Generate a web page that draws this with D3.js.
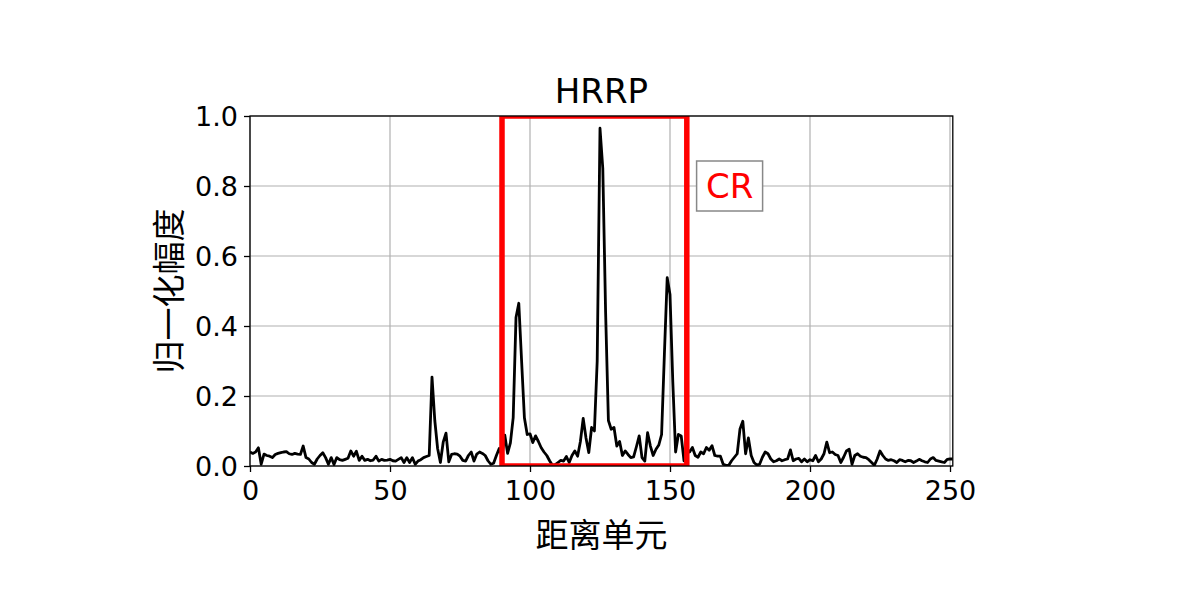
<!DOCTYPE html>
<html>
<head>
<meta charset="utf-8">
<script src="https://cdn.jsdelivr.net/npm/d3@7"></script>
<style>
  html, body { margin: 0; padding: 0; background: #fff; }
  svg { display: block; }
</style>
</head>
<body>
<script>
// ---- data ----
const amplitude = [
  0.040, 0.036, 0.040, 0.052, 0.005, 0.034, 0.030, 0.028, 0.024, 0.033,
  0.036, 0.038, 0.040, 0.041, 0.035, 0.033, 0.036, 0.034, 0.033, 0.057,
  0.024, 0.020, 0.010, 0.005, 0.020, 0.030, 0.038, 0.024, 0.005, 0.024,
  0.004, 0.024, 0.018, 0.016, 0.019, 0.022, 0.043, 0.028, 0.042, 0.016,
  0.028, 0.016, 0.019, 0.015, 0.017, 0.028, 0.014, 0.019, 0.016, 0.017,
  0.019, 0.015, 0.014, 0.019, 0.024, 0.010, 0.024, 0.010, 0.024, 0.005,
  0.014, 0.018, 0.024, 0.027, 0.030, 0.254, 0.130, 0.050, 0.010, 0.068,
  0.094, 0.012, 0.033, 0.035, 0.034, 0.028, 0.016, 0.014, 0.030, 0.040,
  0.014, 0.034, 0.040, 0.036, 0.030, 0.015, 0.005, 0.008, 0.030, 0.050,
  0.030, 0.088, 0.036, 0.066, 0.138, 0.424, 0.465, 0.300, 0.138, 0.090,
  0.092, 0.067, 0.086, 0.070, 0.052, 0.040, 0.030, 0.015, 0.002, 0.004,
  0.010, 0.016, 0.014, 0.027, 0.010, 0.030, 0.043, 0.028, 0.070, 0.136,
  0.080, 0.038, 0.110, 0.100, 0.300, 0.965, 0.850, 0.440, 0.130, 0.105,
  0.110, 0.057, 0.070, 0.030, 0.043, 0.033, 0.024, 0.026, 0.055, 0.086,
  0.024, 0.014, 0.095, 0.057, 0.030, 0.048, 0.060, 0.090, 0.320, 0.538,
  0.490, 0.240, 0.040, 0.090, 0.086, 0.015, 0.050, 0.040, 0.053, 0.030,
  0.025, 0.040, 0.035, 0.053, 0.045, 0.058, 0.030, 0.028, 0.028, 0.005,
  0.002, 0.002, 0.015, 0.025, 0.035, 0.106, 0.128, 0.035, 0.080, 0.030,
  0.010, 0.003, 0.005, 0.025, 0.040, 0.035, 0.020, 0.012, 0.015, 0.020,
  0.015, 0.018, 0.020, 0.046, 0.015, 0.020, 0.022, 0.012, 0.020, 0.012,
  0.018, 0.015, 0.030, 0.012, 0.020, 0.035, 0.068, 0.038, 0.040, 0.033,
  0.030, 0.010, 0.025, 0.043, 0.048, 0.005, 0.030, 0.035, 0.028, 0.025,
  0.024, 0.018, 0.010, 0.002, 0.020, 0.043, 0.030, 0.020, 0.016, 0.018,
  0.015, 0.010, 0.018, 0.016, 0.012, 0.016, 0.015, 0.010, 0.014, 0.019,
  0.015, 0.012, 0.010, 0.020, 0.024, 0.016, 0.014, 0.012, 0.010, 0.019,
  0.020, 0.020
];
const xTicks = [0, 50, 100, 150, 200, 250];
const yTicks = [0.0, 0.2, 0.4, 0.6, 0.8, 1.0];
const regionStart = 90;   // CR region (range cells)
const regionEnd = 156;
const titleText = "HRRP";
const xLabel = "距离单元";
const yLabel = "归一化幅度";
const regionLabel = "CR";

// ---- layout ----
const W = 1195, H = 594;
const plot = { left: 250, right: 952.8, top: 116, bottom: 466 };

const x = d3.scaleLinear().domain([0, 251]).range([plot.left, plot.right]);
const y = d3.scaleLinear().domain([0, 1]).range([plot.bottom, plot.top]);

const svg = d3.select("body").append("svg")
  .attr("width", W).attr("height", H)
  .style("font-family", "'DejaVu Sans', sans-serif");

svg.append("defs").append("clipPath").attr("id", "clip")
  .append("rect")
  .attr("x", plot.left).attr("y", plot.top)
  .attr("width", plot.right - plot.left).attr("height", plot.bottom - plot.top);

// grid
const grid = svg.append("g");
grid.selectAll("line.gx").data(xTicks).join("line")
  .attr("x1", d => x(d)).attr("x2", d => x(d))
  .attr("y1", plot.top).attr("y2", plot.bottom)
  .attr("stroke", "#b0b0b0").attr("stroke-width", 1.2);
grid.selectAll("line.gy").data(yTicks).join("line")
  .attr("x1", plot.left).attr("x2", plot.right)
  .attr("y1", d => y(d)).attr("y2", d => y(d))
  .attr("stroke", "#b0b0b0").attr("stroke-width", 1.2);

// data line
const line = d3.line().x((d, i) => x(i)).y(d => y(d));
svg.append("path")
  .datum(amplitude)
  .attr("clip-path", "url(#clip)")
  .attr("d", line)
  .attr("fill", "none")
  .attr("stroke", "#000")
  .attr("stroke-width", 2.8)
  .attr("stroke-linejoin", "round");

// CR rectangle
svg.append("rect")
  .attr("clip-path", "url(#clip)")
  .attr("x", x(regionStart)).attr("y", y(1))
  .attr("width", x(regionEnd) - x(regionStart))
  .attr("height", y(0) - y(1))
  .attr("fill", "none")
  .attr("stroke", "#ff0000")
  .attr("stroke-width", 5.5);

// spines
svg.append("rect")
  .attr("x", plot.left).attr("y", plot.top)
  .attr("width", plot.right - plot.left).attr("height", plot.bottom - plot.top)
  .attr("fill", "none").attr("stroke", "#000").attr("stroke-width", 1.3);

// axes
const xAxis = d3.axisBottom(x).tickValues(xTicks).tickFormat(d3.format("d"))
  .tickSize(6).tickPadding(6);
const yAxis = d3.axisLeft(y).tickValues(yTicks).tickFormat(d3.format(".1f"))
  .tickSize(6).tickPadding(6);

const gx = svg.append("g").attr("transform", `translate(0,${plot.bottom})`).call(xAxis);
const gy = svg.append("g").attr("transform", `translate(${plot.left},0)`).call(yAxis);
[gx, gy].forEach(g => {
  g.select(".domain").remove();
  g.selectAll(".tick line").attr("stroke", "#000").attr("stroke-width", 1.3);
  g.selectAll(".tick text")
    .attr("fill", "#000")
    .style("font-family", "'DejaVu Sans', sans-serif")
    .style("font-size", "27px");
});
gx.selectAll(".tick text").attr("dy", "0.8em");
gy.selectAll(".tick text").attr("dy", "0.35em");

// title
svg.append("text")
  .attr("x", (plot.left + plot.right) / 2)
  .attr("y", 103)
  .attr("text-anchor", "middle")
  .style("font-size", "34px")
  .attr("fill", "#000")
  .text(titleText);

// axis labels
svg.append("text")
  .attr("x", (plot.left + plot.right) / 2)
  .attr("y", 547)
  .attr("text-anchor", "middle")
  .style("font-family", "'Noto Sans CJK SC', sans-serif")
  .style("font-size", "33px")
  .attr("fill", "#000")
  .text(xLabel);

svg.append("text")
  .attr("transform", `translate(181,${(plot.top + plot.bottom) / 2}) rotate(-90)`)
  .attr("text-anchor", "middle")
  .style("font-family", "'Noto Sans CJK SC', sans-serif")
  .style("font-size", "33px")
  .attr("fill", "#000")
  .text(yLabel);

// CR annotation box
const crX = 159.5, crY = 0.8;
const boxW = 66, boxH = 50;
const cr = svg.append("g");
cr.append("rect")
  .attr("x", x(crX)).attr("y", y(crY) - boxH / 2)
  .attr("width", boxW).attr("height", boxH)
  .attr("fill", "#fff")
  .attr("stroke", "#888")
  .attr("stroke-width", 1.5);
cr.append("text")
  .attr("x", x(crX) + boxW / 2)
  .attr("y", y(crY))
  .attr("dy", "0.36em")
  .attr("text-anchor", "middle")
  .style("font-size", "34px")
  .attr("fill", "#ff0000")
  .text(regionLabel);
</script>
</body>
</html>
